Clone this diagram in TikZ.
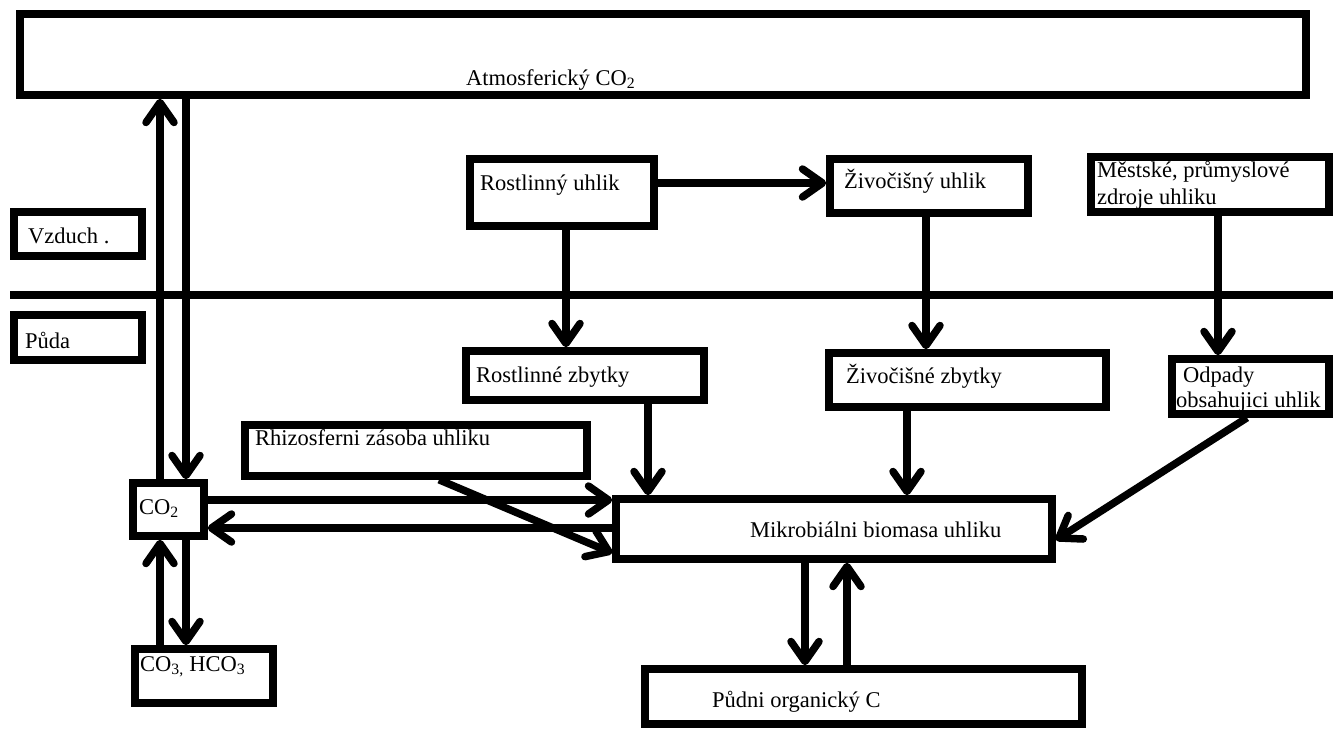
\documentclass[tikz,border=0pt]{standalone}
\usepackage{fontspec}
\setmainfont{Liberation Serif}
\usetikzlibrary{arrows.meta}
\begin{document}
\begin{tikzpicture}[x=1pt,y=-1pt,
  box/.style={draw, rectangle, line width=7.5pt, inner sep=0pt, outer sep=3.75pt},
  txt/.style={anchor=base west, inner sep=0pt, font=\fontsize{22.5}{27}\selectfont},
  arr/.style={line width=7.5pt, -{Straight Barb[length=20pt,width=28pt,round]}},
  sep/.style={line width=7.5pt}
]
\useasboundingbox (0,0) rectangle (1333,729);
% boxes
\node[box, minimum width=1286pt, minimum height=81pt] (atm) at (663,54.5) {};
\node[box, minimum width=128pt, minimum height=44pt] (vz) at (78,234) {};
\node[box, minimum width=128pt, minimum height=45pt] (pu) at (78,337.5) {};
\node[box, minimum width=71pt, minimum height=53pt] (co2) at (168.5,509.5) {};
\node[box, minimum width=138pt, minimum height=54pt] (co3) at (204,676) {};
\node[box, minimum width=342pt, minimum height=51pt] (rh) at (416,450.5) {};
\node[box, minimum width=184pt, minimum height=67pt] (rost) at (562,192.5) {};
\node[box, minimum width=198pt, minimum height=54pt] (ziv) at (929,186) {};
\node[box, minimum width=238pt, minimum height=55pt] (mest) at (1210,184.5) {};
\node[box, minimum width=238pt, minimum height=49pt] (rostz) at (585,375.5) {};
\node[box, minimum width=277pt, minimum height=54pt] (zivz) at (967.5,380) {};
\node[box, minimum width=157pt, minimum height=55pt] (odp) at (1250.5,386.5) {};
\node[box, minimum width=436pt, minimum height=60pt] (mik) at (834,529) {};
\node[box, minimum width=437pt, minimum height=55pt] (pud) at (863.5,696.5) {};
% separator air / soil
\coordinate (sepL) at (10,295);
\coordinate (sepR) at (1333,295);
\draw[sep] (sepL) -- (sepR);
% texts
\node[txt] (tatm) at (466,85) {Atmosferický CO\textsubscript{2}};
\node[txt] (tvz) at (28,243) {Vzduch .};
\node[txt] (tpu) at (25,348) {Půda};
\node[txt] (trost) at (480,190) {Rostlinný uhlik};
\node[txt] (tziv) at (844,188) {Živočišný uhlik};
\node[txt] (tmest1) at (1097,177) {Městské, průmyslové};
\node[txt] (tmest2) at (1097,204) {zdroje uhliku};
\node[txt] (trostz) at (476,382) {Rostlinné zbytky};
\node[txt] (tzivz) at (846,383) {Živočišné zbytky};
\node[txt] (todp1) at (1183,382) {Odpady};
\node[txt] (todp2) at (1176,407) {obsahujici uhlik};
\node[txt] (trh) at (255,445) {Rhizosferni zásoba uhliku};
\node[txt] (tco2) at (139,514) {CO\textsubscript{2}};
\node[txt] (tco3) at (140,671) {CO\textsubscript{3,} HCO\textsubscript{3}};
\node[txt] (tmik) at (750,537) {Mikrobiálni biomasa uhliku};
\node[txt] (tpud) at (712,707) {Půdni organický C};
% connectors
\draw[arr] ([xshift=-8.5pt]co2.north) -- ([xshift=-8.5pt]co2.north |- atm.south);
\draw[arr] ([xshift=17.5pt]co2.north |- atm.south) -- ([xshift=17.5pt]co2.north);
\draw[arr] ([xshift=17.5pt]co2.south) -- ([xshift=17.5pt]co2.south |- co3.north);
\draw[arr] ([xshift=-8.5pt]co2.south |- co3.north) -- ([xshift=-8.5pt]co2.south);
\draw[arr] ([yshift=9.5pt]co2.east) -- ([yshift=9.5pt]co2.east -| mik.west);
\draw[arr] ([yshift=-18.5pt]co2.east -| mik.west) -- ([yshift=-18.5pt]co2.east);
\draw[arr] ([yshift=9.5pt]rost.east) -- ([yshift=9.5pt]rost.east -| ziv.west);
\draw[arr] ([xshift=4pt]rost.south) -- ([xshift=4pt]rost.south |- rostz.north);
\draw[arr] ([xshift=-3pt]ziv.south) -- ([xshift=-3pt]ziv.south |- zivz.north);
\draw[arr] ([xshift=8pt]mest.south) -- ([xshift=8pt]mest.south |- odp.north);
\draw[arr] ([xshift=63pt]rostz.south) -- ([xshift=63pt]rostz.south |- mik.north);
\draw[arr] ([xshift=-60.5pt]zivz.south) -- ([xshift=-60.5pt]zivz.south |- mik.north);
\draw[arr] ([xshift=-3.5pt]odp.south) -- ([yshift=-11pt]mik.east);
\draw[arr] ([xshift=23pt]rh.south) -- ([yshift=-24pt]mik.west);
\draw[arr] ([xshift=-29pt]mik.south) -- ([xshift=-29pt]mik.south |- pud.north);
\draw[arr] ([xshift=-16.5pt]pud.north) -- ([xshift=-16.5pt]pud.north |- mik.south);
\end{tikzpicture}
\end{document}
